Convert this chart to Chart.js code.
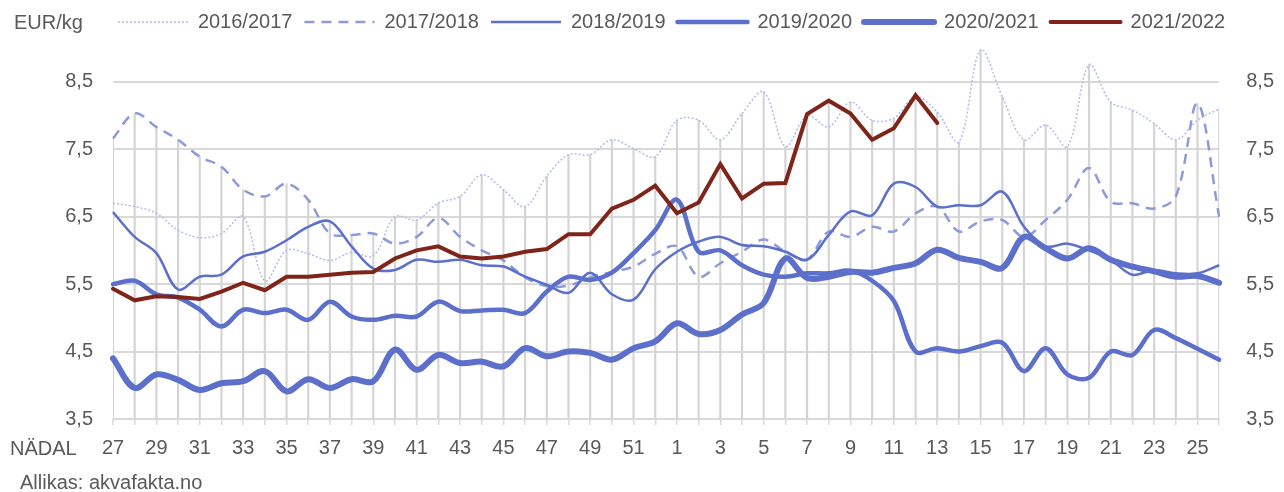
<!DOCTYPE html>
<html lang="et">
<head>
<meta charset="utf-8">
<title>Lõhe hind nädalate kaupa</title>
<script src="https://cdn.jsdelivr.net/npm/chart.js@4.4.1/dist/chart.umd.min.js"></script>
<style>
  html, body { margin: 0; padding: 0; background: #fff; }
  #wrap {
    position: relative;
    width: 1284px;
    height: 492px;
    font-family: "Liberation Sans", Arial, sans-serif;
    color: #595959;
  }
  #chart { position: absolute; left: 0; top: 0; }
  .note { position: absolute; font-size: 20px; line-height: 24px; white-space: nowrap; }
</style>
</head>
<body>
<div id="wrap">
  <canvas id="chart" width="1284" height="492"></canvas>
  <div class="note" style="left:14px; top:10px;">EUR/kg</div>
  <div class="note" style="left:10px; top:436px;">NÄDAL</div>
  <div class="note" style="left:20px; top:470px;">Allikas: akvafakta.no</div>
</div>
<script>
const WEEKS = [
  "27", "28", "29", "30", "31", "32", "33", "34", "35", "36", "37", "38", "39",
  "40", "41", "42", "43", "44", "45", "46", "47", "48", "49", "50", "51", "52",
  "1", "2", "3", "4", "5", "6", "7", "8", "9", "10", "11", "12", "13",
  "14", "15", "16", "17", "18", "19", "20", "21", "22", "23", "24", "25", "26"
];

const Y_TICKS = [3.5, 4.5, 5.5, 6.5, 7.5, 8.5];

const SEASON_2016 = [
  6.70, 6.65, 6.55, 6.30, 6.19, 6.25, 6.50, 5.55, 6.00, 5.95, 5.85, 5.97, 5.92, 6.50, 6.45,
  6.70, 6.80, 7.12, 6.90, 6.65, 7.10, 7.42, 7.42, 7.64, 7.51, 7.39,
  7.93, 7.93, 7.64, 8.03, 8.35, 7.54, 8.00, 7.83, 8.20,
  7.93, 7.96, 8.28, 8.05, 7.61, 8.97, 8.28, 7.64, 7.86, 7.54, 8.75, 8.20, 8.08, 7.88, 7.64, 7.93, 8.10
];

const SEASON_2017 = [
  7.66, 8.03, 7.83, 7.64, 7.39, 7.24, 6.90, 6.80, 6.99, 6.75, 6.25, 6.23, 6.25, 6.10, 6.20,
  6.48, 6.20, 6.00, 5.85, 5.60, 5.47, 5.48, 5.60, 5.68, 5.76, 5.95,
  6.06, 5.61, 5.81, 5.98, 6.16, 5.98, 5.87, 6.28, 6.20,
  6.35, 6.28, 6.55, 6.65, 6.28, 6.43, 6.45, 6.20, 6.45, 6.75, 7.22, 6.72, 6.70, 6.62, 6.80, 8.18, 6.50
];

const SEASON_2018 = [
  6.57, 6.20, 5.96, 5.42, 5.61, 5.64, 5.91, 5.98, 6.15, 6.35, 6.43, 6.06, 5.73, 5.71, 5.86,
  5.83, 5.86, 5.78, 5.76, 5.61, 5.49, 5.37, 5.67, 5.35, 5.27, 5.72,
  5.98, 6.13, 6.20, 6.08, 6.06, 5.98, 5.86, 6.23, 6.58,
  6.52, 6.99, 6.94, 6.65, 6.67, 6.67, 6.87, 6.35, 6.06, 6.10, 6.00, 5.86, 5.64, 5.71, 5.66, 5.66, 5.78
];

const SEASON_2019 = [
  5.50, 5.55, 5.35, 5.30, 5.12, 4.87, 5.12, 5.07, 5.12, 4.97, 5.24, 5.02, 4.97, 5.03, 5.02,
  5.24, 5.10, 5.11, 5.12, 5.07, 5.39, 5.61, 5.56, 5.67, 5.96, 6.30,
  6.75, 5.98, 6.00, 5.78, 5.64, 5.61, 5.66, 5.66, 5.70,
  5.55, 5.25, 4.50, 4.55, 4.50, 4.58, 4.63, 4.21, 4.55, 4.16, 4.11, 4.50, 4.45, 4.82, 4.70, 4.54, 4.38
];

const SEASON_2020 = [
  4.40, 3.96, 4.16, 4.08, 3.93, 4.03, 4.06, 4.21, 3.91, 4.09, 3.96, 4.09, 4.06, 4.53, 4.23,
  4.45, 4.33, 4.35, 4.28, 4.55, 4.43, 4.50, 4.48, 4.38, 4.55, 4.65,
  4.92, 4.76, 4.82, 5.05, 5.22, 5.88, 5.59, 5.61, 5.68,
  5.67, 5.74, 5.81, 6.01, 5.89, 5.83, 5.74, 6.20, 6.03, 5.88, 6.03, 5.86, 5.76, 5.69, 5.61, 5.62, 5.52
];

const SEASON_2021 = [
  5.43, 5.26, 5.32, 5.31, 5.28, 5.39, 5.52, 5.41, 5.61, 5.61, 5.64, 5.67, 5.68, 5.88, 6.00,
  6.06, 5.91, 5.88, 5.91, 5.98, 6.02, 6.24, 6.24, 6.62, 6.75, 6.96,
  6.55, 6.71, 7.28, 6.77, 6.99, 7.00, 8.02, 8.22, 8.03, 7.64, 7.81, 8.30, 7.89,
  null, null, null, null, null, null, null, null, null, null, null, null, null
];

const TEXT = "#595959";
const GRID = "#d9d9d9";
const BLUE = "#5b6fcb";

// Excel style drop lines: from the highest season value down to the axis
const ALL_SEASONS = [SEASON_2016, SEASON_2017, SEASON_2018, SEASON_2019, SEASON_2020, SEASON_2021];
const DROP_LINES = WEEKS.map((w, i) => Math.max(...ALL_SEASONS.map(s => s[i]).filter(v => v !== null)));

function fmt(value) {
  return value.toFixed(1).replace(".", ",");
}

function fixedTicks(axis) {
  axis.ticks = Y_TICKS.map(v => ({ value: v }));
}

// point style legend ignores the dataset dash and cap, so copy them over
function legendLabels(chart) {
  return Chart.defaults.plugins.legend.labels.generateLabels(chart).map(item => {
    const ds = chart.data.datasets[item.datasetIndex];
    item.lineDash = ds.borderDash || [];
    item.lineCap = ds.borderCapStyle || "butt";
    item.lineWidth = ds.borderWidth;
    return item;
  });
}

Chart.defaults.font.family = '"Liberation Sans", Arial, sans-serif';
Chart.defaults.font.size = 20;
Chart.defaults.color = TEXT;

function season(label, data, color, width, extra) {
  return Object.assign({
    type: "line",
    label,
    data,
    borderColor: color,
    backgroundColor: color,
    borderWidth: width,
    pointRadius: 0,
    pointHoverRadius: 0,
    tension: 0.35,
    fill: false
  }, extra);
}

new Chart(document.getElementById("chart"), {
  type: "line",
  data: {
    labels: WEEKS,
    datasets: [
      season("2016/2017", SEASON_2016, "#b3bbe8", 1.5, { borderDash: [2, 2], order: 5 }),
      season("2017/2018", SEASON_2017, "#8d9ad9", 2.5, { borderDash: [10, 7], order: 4 }),
      season("2018/2019", SEASON_2018, BLUE, 2.5, { order: 3 }),
      season("2019/2020", SEASON_2019, BLUE, 4.5, { borderCapStyle: "round", order: 2 }),
      season("2020/2021", SEASON_2020, BLUE, 6, { borderCapStyle: "round", order: 1 }),
      season("2021/2022", SEASON_2021, "#7f2418", 4, { tension: 0, borderCapStyle: "round", order: 0 }),
      {
        type: "bar",
        label: "",
        data: DROP_LINES,
        backgroundColor: "#d4d4d4",
        barThickness: 1.5,
        order: 10
      }
    ]
  },
  options: {
    responsive: false,
    animation: false,
    events: [],
    layout: { padding: { left: 59, right: 0, top: 0, bottom: 0 } },
    plugins: {
      tooltip: { enabled: false },
      legend: {
        position: "top",
        align: "center",
        labels: {
          usePointStyle: true,
          pointStyle: "line",
          pointStyleWidth: 70,
          padding: 12,
          color: TEXT,
          font: { size: 20 },
          generateLabels: legendLabels,
          filter: item => item.text !== "",
          sort: (a, b) => a.datasetIndex - b.datasetIndex
        }
      }
    },
    scales: {
      x: {
        type: "category",
        offset: false,
        afterFit: scale => { scale.height = 73; },
        grid: {
          offset: false,
          drawOnChartArea: false,
          drawTicks: true,
          tickLength: 6,
          color: GRID,
          lineWidth: 1.5
        },
        border: { display: false },
        ticks: {
          autoSkip: false,
          maxRotation: 0,
          padding: 11,
          color: TEXT,
          font: { size: 20 },
          callback: (value, index) => (index % 2 === 0 ? WEEKS[index] : "")
        }
      },
      y: {
        position: "left",
        min: 3.5,
        max: 9.09,
        afterBuildTicks: fixedTicks,
        afterFit: scale => { scale.width = 54; },
        grid: { color: GRID, lineWidth: 2, drawTicks: false },
        border: { display: false },
        ticks: { padding: 20, color: TEXT, font: { size: 20 }, callback: fmt }
      },
      y2: {
        position: "right",
        display: true,
        min: 3.5,
        max: 9.09,
        afterBuildTicks: fixedTicks,
        afterFit: scale => { scale.width = 64.8; },
        grid: { display: false },
        border: { display: false },
        ticks: { padding: 19, color: TEXT, font: { size: 20 }, callback: fmt }
      }
    }
  }
});
</script>
</body>
</html>
